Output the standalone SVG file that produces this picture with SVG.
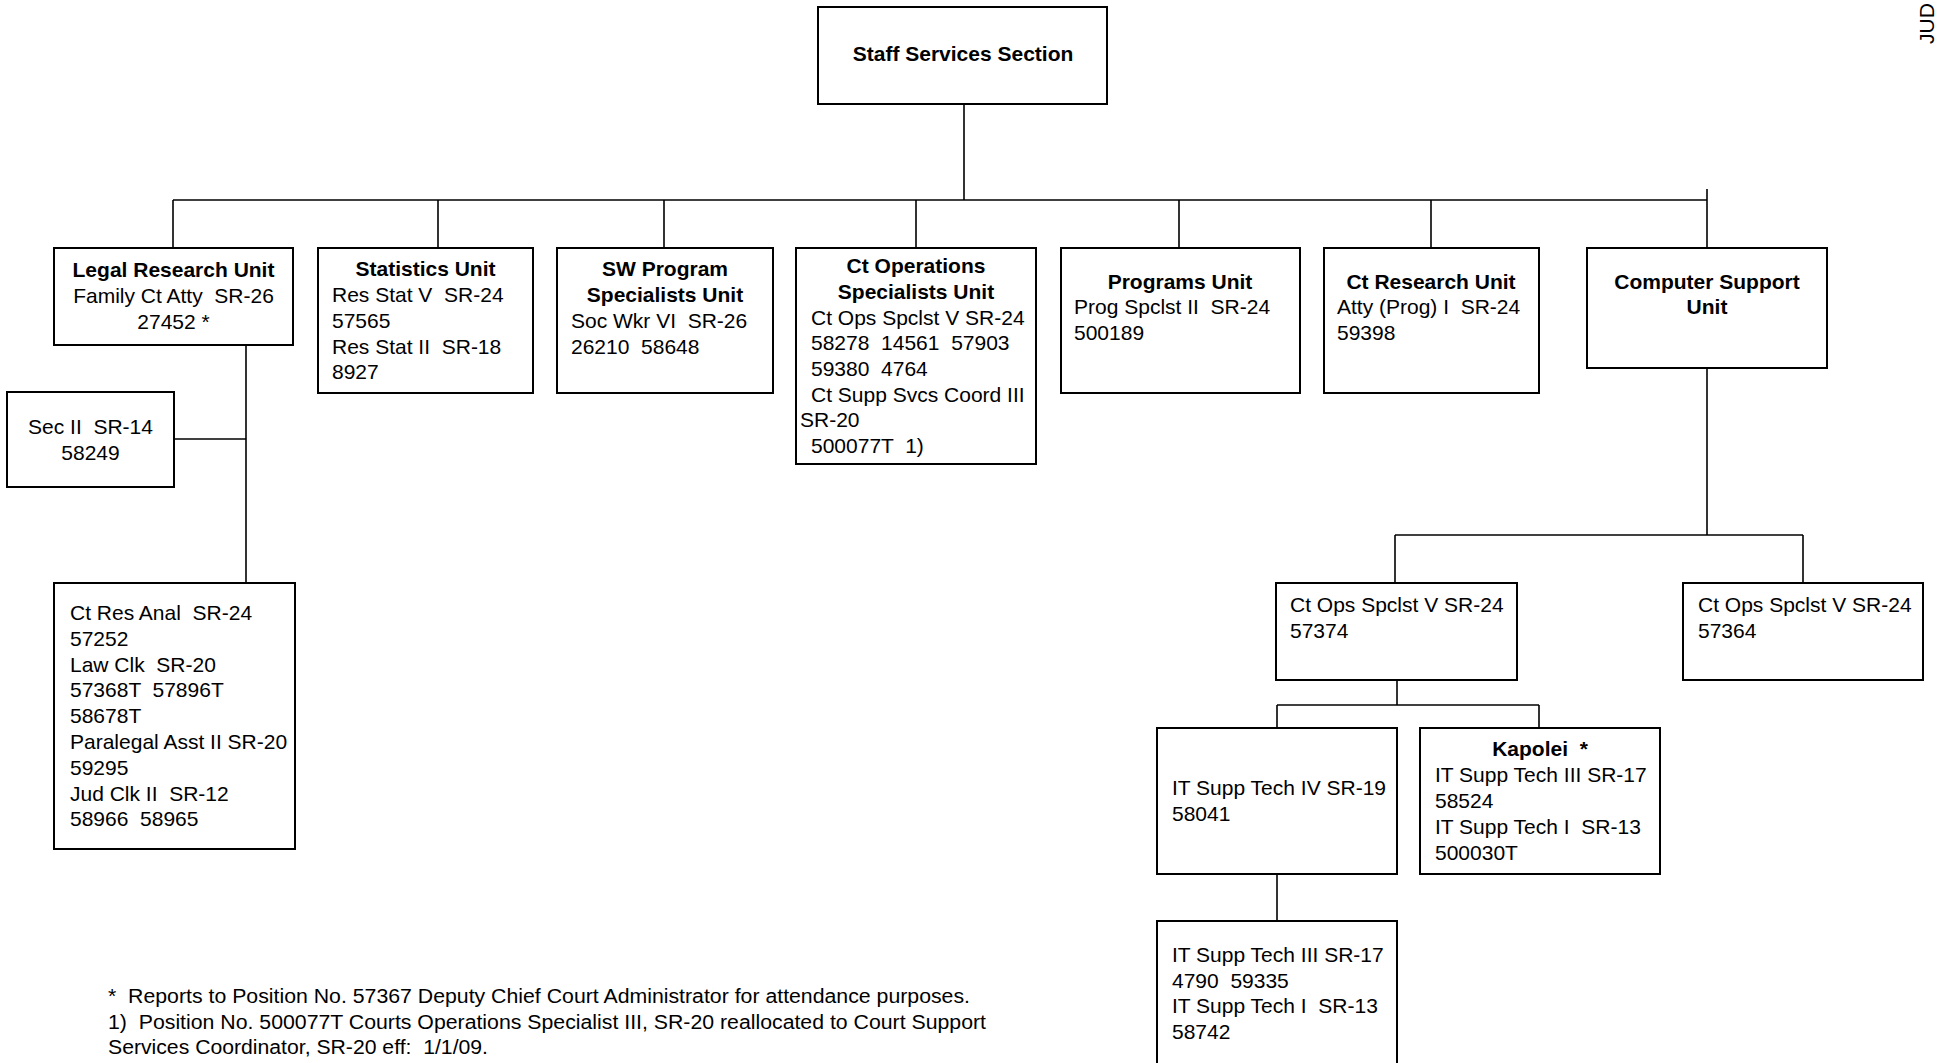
<svg xmlns="http://www.w3.org/2000/svg" width="1938" height="1063" viewBox="0 0 1938 1063">
<style>
.box{fill:#fff;stroke:#000;stroke-width:2}
text{white-space:pre}
.t{font-family:"Liberation Sans",Arial,sans-serif;font-size:21px;fill:#000}
.b{font-weight:bold}
.c{text-anchor:middle}
.fn{font-family:"Liberation Sans",Arial,sans-serif;font-size:20px;fill:#000}
#connectors line{stroke:#000;stroke-width:1.6}
</style>
<rect width="1938" height="1063" fill="#fff"/>
<g id="connectors">
<line x1="964" y1="104" x2="964" y2="200"/>
<line x1="173" y1="200" x2="1707" y2="200"/>
<line x1="1707" y1="189" x2="1707" y2="248"/>
<line x1="173" y1="200" x2="173" y2="248"/>
<line x1="438" y1="200" x2="438" y2="248"/>
<line x1="664" y1="200" x2="664" y2="248"/>
<line x1="916" y1="200" x2="916" y2="248"/>
<line x1="1179" y1="200" x2="1179" y2="248"/>
<line x1="1431" y1="200" x2="1431" y2="248"/>
<line x1="246" y1="345" x2="246" y2="583"/>
<line x1="174" y1="439" x2="246" y2="439"/>
<line x1="1707" y1="368" x2="1707" y2="535"/>
<line x1="1395" y1="535" x2="1803" y2="535"/>
<line x1="1395" y1="535" x2="1395" y2="583"/>
<line x1="1803" y1="535" x2="1803" y2="583"/>
<line x1="1397" y1="680" x2="1397" y2="705"/>
<line x1="1277" y1="705" x2="1539" y2="705"/>
<line x1="1277" y1="705" x2="1277" y2="728"/>
<line x1="1539" y1="705" x2="1539" y2="728"/>
<line x1="1277" y1="874" x2="1277" y2="921"/>
</g>
<g id="staff">
<rect class="box" x="818" y="7" width="289" height="97"/>
<text class="t b c" x="963" y="61">Staff Services Section</text>
</g>
<g id="legal">
<rect class="box" x="54" y="248" width="239" height="97"/>
<text class="t b c" x="173.5" y="277">Legal Research Unit</text>
<text class="t c" x="173.5" y="303">Family Ct Atty  SR-26</text>
<text class="t c" x="173.5" y="329">27452 *</text>
</g>
<g id="stats">
<rect class="box" x="318" y="248" width="215" height="145"/>
<text class="t b c" x="425.5" y="276">Statistics Unit</text>
<text class="t" x="332" y="302">Res Stat V  SR-24</text>
<text class="t" x="332" y="328">57565</text>
<text class="t" x="332" y="354">Res Stat II  SR-18</text>
<text class="t" x="332" y="379">8927</text>
</g>
<g id="sw">
<rect class="box" x="557" y="248" width="216" height="145"/>
<text class="t b c" x="665" y="276">SW Program</text>
<text class="t b c" x="665" y="302">Specialists Unit</text>
<text class="t" x="571" y="328">Soc Wkr VI  SR-26</text>
<text class="t" x="571" y="354">26210  58648</text>
</g>
<g id="ctops">
<rect class="box" x="796" y="248" width="240" height="216"/>
<text class="t b c" x="916" y="273">Ct Operations</text>
<text class="t b c" x="916" y="299">Specialists Unit</text>
<text class="t" x="811" y="325">Ct Ops Spclst V SR-24</text>
<text class="t" x="811" y="350">58278  14561  57903</text>
<text class="t" x="811" y="376">59380  4764</text>
<text class="t" x="811" y="402">Ct Supp Svcs Coord III</text>
<text class="t" x="800" y="427">SR-20</text>
<text class="t" x="811" y="453">500077T  1)</text>
</g>
<g id="programs">
<rect class="box" x="1061" y="248" width="239" height="145"/>
<text class="t b c" x="1180" y="289">Programs Unit</text>
<text class="t" x="1074" y="314">Prog Spclst II  SR-24</text>
<text class="t" x="1074" y="340">500189</text>
</g>
<g id="ctresearch">
<rect class="box" x="1324" y="248" width="215" height="145"/>
<text class="t b c" x="1431" y="289">Ct Research Unit</text>
<text class="t" x="1337" y="314">Atty (Prog) I  SR-24</text>
<text class="t" x="1337" y="340">59398</text>
</g>
<g id="computer">
<rect class="box" x="1587" y="248" width="240" height="120"/>
<text class="t b c" x="1707" y="289">Computer Support</text>
<text class="t b c" x="1707" y="314">Unit</text>
</g>
<g id="secii">
<rect class="box" x="7" y="392" width="167" height="95"/>
<text class="t c" x="90.5" y="434">Sec II  SR-14</text>
<text class="t c" x="90.5" y="460">58249</text>
</g>
<g id="ctresanal">
<rect class="box" x="54" y="583" width="241" height="266"/>
<text class="t" x="70" y="620">Ct Res Anal  SR-24</text>
<text class="t" x="70" y="646">57252</text>
<text class="t" x="70" y="672">Law Clk  SR-20</text>
<text class="t" x="70" y="697">57368T  57896T</text>
<text class="t" x="70" y="723">58678T</text>
<text class="t" x="70" y="749">Paralegal Asst II SR-20</text>
<text class="t" x="70" y="775">59295</text>
<text class="t" x="70" y="801">Jud Clk II  SR-12</text>
<text class="t" x="70" y="826">58966  58965</text>
</g>
<g id="ops57374">
<rect class="box" x="1276" y="583" width="241" height="97"/>
<text class="t" x="1290" y="612">Ct Ops Spclst V SR-24</text>
<text class="t" x="1290" y="638">57374</text>
</g>
<g id="ops57364">
<rect class="box" x="1683" y="583" width="240" height="97"/>
<text class="t" x="1698" y="612">Ct Ops Spclst V SR-24</text>
<text class="t" x="1698" y="638">57364</text>
</g>
<g id="itiv">
<rect class="box" x="1157" y="728" width="240" height="146"/>
<text class="t" x="1172" y="795">IT Supp Tech IV SR-19</text>
<text class="t" x="1172" y="821">58041</text>
</g>
<g id="kapolei">
<rect class="box" x="1420" y="728" width="240" height="146"/>
<text class="t b c" x="1540" y="756">Kapolei  *</text>
<text class="t" x="1435" y="782">IT Supp Tech III SR-17</text>
<text class="t" x="1435" y="808">58524</text>
<text class="t" x="1435" y="834">IT Supp Tech I  SR-13</text>
<text class="t" x="1435" y="860">500030T</text>
</g>
<g id="itiii">
<rect class="box" x="1157" y="921" width="240" height="160"/>
<text class="t" x="1172" y="962">IT Supp Tech III SR-17</text>
<text class="t" x="1172" y="988">4790  59335</text>
<text class="t" x="1172" y="1013">IT Supp Tech I  SR-13</text>
<text class="t" x="1172" y="1039">58742</text>
</g>
<g id="footnotes">
<text class="fn" x="108" y="1003" textLength="862" lengthAdjust="spacingAndGlyphs">*  Reports to Position No. 57367 Deputy Chief Court Administrator for attendance purposes.</text>
<text class="fn" x="108" y="1029" textLength="878" lengthAdjust="spacingAndGlyphs">1)  Position No. 500077T Courts Operations Specialist III, SR-20 reallocated to Court Support</text>
<text class="fn" x="108" y="1054" textLength="380" lengthAdjust="spacingAndGlyphs">Services Coordinator, SR-20 eff:  1/1/09.</text>
</g>
<text class="t" x="0" y="0" font-size="19" transform="translate(1934,44) rotate(-90)">JUD</text>
</svg>
